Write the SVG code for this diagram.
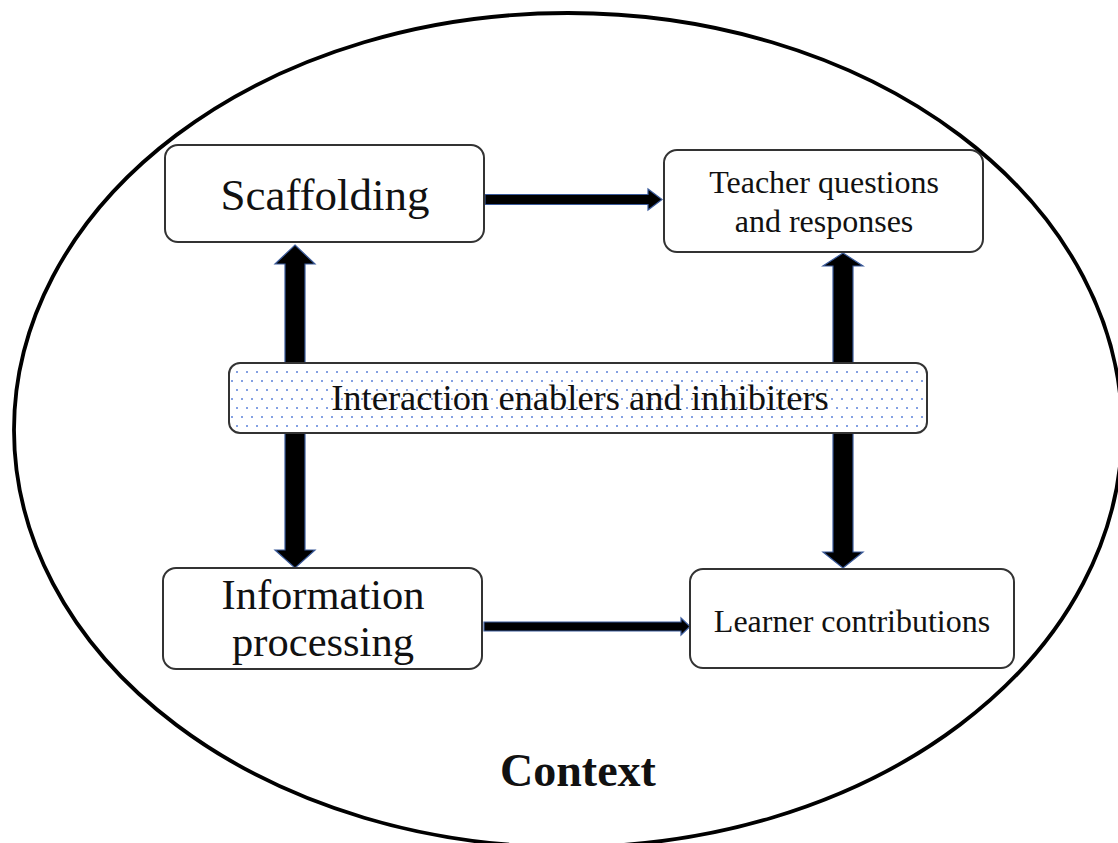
<svg xmlns="http://www.w3.org/2000/svg" width="1118" height="843" viewBox="0 0 1118 843">
<style>
.box{fill:#fff;stroke:#333;stroke-width:2}
.t{font-family:"Liberation Serif","Times New Roman",serif;fill:#111;text-anchor:middle}
.arr{fill:#000;stroke:#3a5a9a;stroke-width:1.2;stroke-linejoin:miter}
</style>
<defs>
<pattern id="dots" x="0" y="0" width="10" height="18" patternUnits="userSpaceOnUse">
<circle cx="2" cy="3" r="1" fill="#5b80d8"/>
<circle cx="7" cy="12" r="1" fill="#5b80d8"/>
</pattern>
</defs>
<rect width="1118" height="843" fill="#fff"/>
<ellipse cx="568" cy="430" rx="554" ry="417" fill="none" stroke="#000" stroke-width="3.8"/>
<g id="connectors">
<polygon class="arr" points="295,245 315,264 305,264 305,550 315,550 295,568 275,550 285,550 285,264 275,264"/>
<polygon class="arr" points="843,253 863,266 853,266 853,552 863,552 843,568 823,552 833,552 833,266 823,266"/>
<polygon class="arr" points="485,194.5 648,194.5 648,189 662,199.5 648,210 648,204.5 485,204.5"/>
<polygon class="arr" points="484,622 681,622 681,618 690,626.5 681,635 681,631 484,631"/>
</g>
<g id="scaffolding">
<rect class="box" x="165" y="145" width="319" height="97" rx="13"/>
<text class="t" x="325" y="210" font-size="45">Scaffolding</text>
</g>
<g id="teacher">
<rect class="box" x="664" y="150" width="319" height="102" rx="13"/>
<text class="t" x="824" y="193" font-size="32">Teacher questions</text>
<text class="t" x="824" y="232" font-size="32">and responses</text>
</g>
<g id="interaction">
<rect x="229" y="363" width="698" height="70" rx="11" fill="#fff"/>
<rect x="229" y="363" width="698" height="70" rx="11" fill="url(#dots)" stroke="#333" stroke-width="2"/>
<text class="t" x="580" y="410" font-size="36.5">Interaction enablers and inhibiters</text>
</g>
<g id="information">
<rect class="box" x="163" y="568" width="319" height="101" rx="13"/>
<text class="t" x="323" y="609" font-size="42.5">Information</text>
<text class="t" x="323" y="656" font-size="42.5">processing</text>
</g>
<g id="learner">
<rect class="box" x="690" y="569" width="324" height="99" rx="13"/>
<text class="t" x="852" y="632" font-size="32">Learner contributions</text>
</g>
<g id="context">
<text class="t" x="578" y="786" font-size="46" font-weight="bold">Context</text>
</g>
</svg>
